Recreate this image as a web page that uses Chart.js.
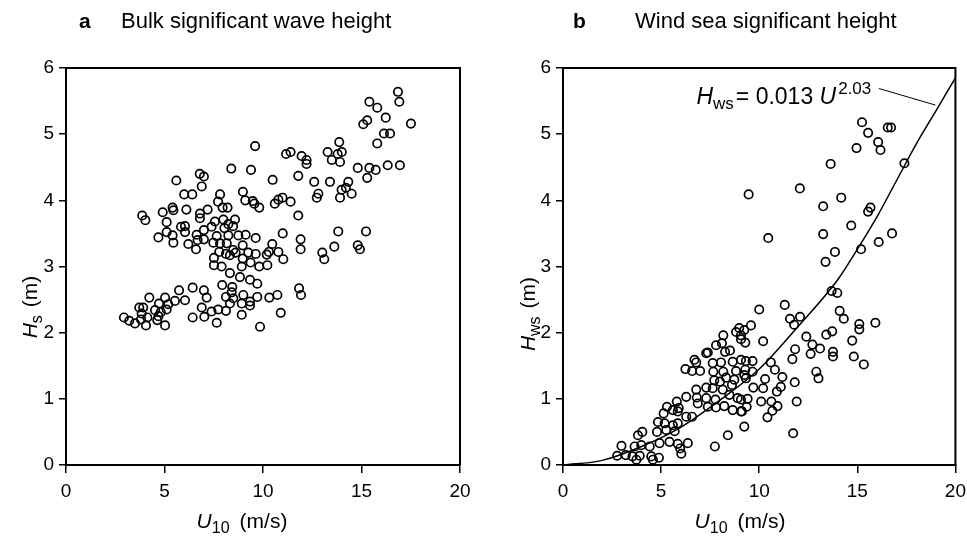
<!DOCTYPE html>
<html><head><meta charset="utf-8">
<script src="https://cdn.jsdelivr.net/npm/chart.js@4.4.0/dist/chart.umd.min.js"></script>
<style>
html,body{margin:0;padding:0;background:#fff;}
#wrap{position:relative;width:967px;height:536px;overflow:hidden;background:#fff;}
canvas{position:absolute;top:0;}
</style></head><body>
<div id="wrap"><canvas id="ca" width="483" height="536" style="left:0"></canvas><canvas id="cb" width="490" height="536" style="left:483px"></canvas></div>
<script>
// ---- Panel a: bulk significant wave height ----
const aU = [9.6,8.39,9.39,10.49,5.6,6.79,7.0,6.89,6.0,6.41,7.82,8.98,9.1,9.48,9.81,9.56,10.6,10.78,7.72,7.95,8.2,5.41,5.45,4.91,6.11,7.19,6.8,6.8,3.87,4.03,5.11,5.84,6.04,7.56,7.99,8.58,8.24,8.48,7.39,8.04,7.0,6.04,5.11,4.69,5.41,5.45,6.63,6.68,7.0,6.21,6.6,7.65,8.24,8.75,9.12,9.63,7.48,7.82,8.16,8.97,8.49,7.78,8.12,8.61,9.25,9.63,10.47,10.3,10.19,10.78,7.51,8.32,8.97,9.37,7.51,7.9,8.92,9.81,10.22,8.32,8.83,9.34,9.71,7.93,8.44,5.74,6.43,7.0,
7.14,6.89,8.41,8.12,9.0,9.71,8.49,8.32,8.92,9.34,9.34,10.32,10.73,7.39,7.73,8.12,8.92,7.02,7.65,6.43,9.85,10.9,4.23,5.03,5.53,6.04,4.72,5.19,3.72,3.92,4.52,5.11,4.81,3.84,4.13,4.69,2.94,3.21,3.5,3.81,4.06,4.63,5.03,
15.4,15.8,16.92,16.85,16.23,15.29,15.09,17.51,16.14,16.45,15.8,13.87,14.0,11.17,11.4,11.96,12.21,12.21,13.28,13.79,13.49,13.91,14.81,15.4,15.72,15.29,16.33,16.95,11.79,12.6,13.4,14.33,12.81,12.73,13.99,14.21,13.91,14.5,10.99,11.4,11.79,11.0,11.91,11.91,11.03,13.82,15.23,13.62,14.81,14.92,13.01,13.11,11.83,11.93];
const aHs = [4.82,4.48,4.46,4.31,4.30,4.40,4.36,4.21,4.09,4.09,4.09,4.13,4.0,3.99,3.89,3.95,3.95,4.01,3.98,3.89,3.89,3.89,3.85,3.82,3.86,3.86,3.80,3.73,3.77,3.70,3.67,3.60,3.61,3.68,3.71,3.71,3.64,3.61,3.60,3.58,3.55,3.52,3.52,3.44,3.47,3.36,3.48,3.40,3.41,3.34,3.26,3.46,3.47,3.47,3.48,3.43,3.36,3.35,3.35,3.32,3.25,3.22,3.19,3.21,3.21,3.19,3.34,3.22,3.18,3.22,3.13,3.17,3.12,3.06,3.02,3.0,3.0,3.0,3.02,2.90,2.84,2.80,2.74,2.72,2.69,2.64,2.68,2.64,
2.53,2.38,2.61,2.54,2.57,2.54,2.52,2.44,2.44,2.47,2.41,2.53,2.57,2.32,2.35,2.33,2.27,2.24,2.15,2.23,2.09,2.30,2.53,2.53,2.48,2.49,2.44,2.43,2.38,2.38,2.34,2.35,2.31,2.29,2.23,2.25,2.23,2.18,2.14,2.20,2.11,2.19,2.11,
5.49,5.40,5.49,5.64,5.25,5.21,5.15,5.16,5.01,5.01,4.86,4.88,4.73,4.70,4.73,4.67,4.61,4.55,4.73,4.70,4.61,4.58,4.49,4.49,4.46,4.34,4.53,4.53,4.37,4.28,4.28,4.28,4.10,4.04,4.16,4.19,4.04,4.10,4.04,3.98,3.77,3.50,3.41,3.26,3.11,3.53,3.53,3.30,3.32,3.26,3.21,3.11,2.67,2.57];

// ---- Panel b: wind sea significant height ----
const bU = [15.24,15.55,14.96,16.06,16.18,16.55,16.72,17.4,13.64,9.46,12.07,
14.18,13.26,15.67,15.55,14.69,10.46,13.26,16.77,16.09,15.19,13.86,13.38,13.69,13.98,
10.0,11.3,11.57,12.08,11.78,14.1,14.31,15.1,15.1,15.92,9.58,9.24,8.98,9.29,9.07,10.2,12.4,12.71,13.1,13.42,13.72,14.74,11.83,11.69,12.62,13.76,13.76,14.82,15.33,12.91,13.02,10.59,10.8,11.18,11.81,11.1,10.9,10.3,10.2,9.7,10.1,10.62,10.93,10.67,10.42,11.91,11.73,9.24,9.66,9.32,9.29,9.66,9.32,9.41,9.36,9.07,
8.82,9.07,8.17,7.8,8.1,8.26,8.51,7.38,6.7,6.79,6.24,6.58,6.99,7.63,8.05,8.65,9.07,7.66,8.17,8.82,8.31,8.73,9.24,7.71,8.0,8.61,6.79,7.3,7.63,8.14,6.28,6.82,7.3,7.77,8.48,8.9,9.07,6.87,7.38,7.8,8.22,8.65,9.12,5.8,5.9,5.3,5.6,5.85,6.28,6.58,5.13,4.84,5.18,5.6,5.85,4.79,5.26,5.69,4.04,3.82,3.65,3.99,4.42,2.98,4.92,5.43,5.97,6.03,5.85,6.36,3.2,3.54,3.91,4.5,4.89,2.76,3.74,4.58,7.3,7.74,8.4];
const bHws = [5.18,5.02,4.79,4.88,4.76,5.10,5.10,4.56,4.55,4.09,4.18,
4.04,3.91,3.89,3.83,3.62,3.43,3.49,3.50,3.37,3.26,3.22,3.07,2.63,2.60,
2.35,2.42,2.21,2.24,2.12,2.33,2.21,2.13,2.05,2.15,2.11,2.04,2.07,1.85,1.90,1.87,1.94,1.82,1.76,1.97,2.02,1.88,1.75,1.60,1.68,1.71,1.64,1.64,1.52,1.41,1.31,1.55,1.44,1.33,1.25,1.18,1.11,1.30,1.16,1.17,0.96,0.96,0.89,0.82,0.72,0.96,0.48,0.58,1.57,1.57,1.44,1.41,1.31,1.0,0.88,0.81,
2.01,1.96,1.96,1.81,1.84,1.71,1.73,1.70,1.59,1.55,1.45,1.42,1.42,1.54,1.55,1.56,1.59,1.41,1.41,1.42,1.32,1.29,1.36,1.28,1.26,1.21,1.14,1.17,1.16,1.14,1.03,1.02,1.01,0.99,1.06,1.01,0.99,0.93,0.88,0.87,0.89,0.83,0.81,0.96,0.86,0.88,0.83,0.81,0.73,0.73,0.78,0.65,0.63,0.60,0.63,0.50,0.53,0.51,0.50,0.45,0.28,0.30,0.28,0.29,0.33,0.35,0.25,0.17,0.32,0.33,0.15,0.13,0.14,0.13,0.11,0.14,0.08,0.08,1.69,0.28,0.45];

// fitted curve
const fitU = [0,2,4,6,8,10,12,14,15,16,17,18,19,20];
const fitH = [0,0.07,0.28,0.57,0.98,1.45,2.1,2.8,3.26,3.75,4.3,4.85,5.35,5.85];

const xTickStep = 5, yTickStep = 1;
const FONT = '"Liberation Sans", Arial, Helvetica, sans-serif';

function pts(xs, ys){ return xs.map((x,i)=>({x:x, y:ys[i]})); }
function fontOf(s){ return (s.italic?'italic ':'') + (s.bold?'bold ':'') + s.size + 'px ' + FONT; }
function drawRich(ctx, segs, x, y, align){
  let w = 0;
  segs.forEach(s=>{ ctx.font = fontOf(s); w += ctx.measureText(s.t).width + (s.gap||0); });
  let cx = align === 'center' ? x - w/2 : x;
  segs.forEach(s=>{ ctx.font = fontOf(s); ctx.fillText(s.t, cx, y + (s.dy||0)); cx += ctx.measureText(s.t).width + (s.gap||0); });
}

const decoPlugin = {
  id: 'deco',
  afterDraw(chart, args, o){
    const ctx = chart.ctx, ca = chart.chartArea;
    ctx.save();
    ctx.strokeStyle = '#000'; ctx.lineWidth = 2;
    ctx.beginPath();
    ctx.moveTo(ca.left, ca.top); ctx.lineTo(ca.right, ca.top); ctx.lineTo(ca.right, ca.bottom);
    ctx.stroke();
    ctx.fillStyle = '#000'; ctx.textBaseline = 'alphabetic'; ctx.textAlign = 'left';
    ctx.font = 'bold 21px ' + FONT; ctx.fillText(o.letter, o.letterX, 28);
    ctx.font = '22px ' + FONT; ctx.fillText(o.title, o.titleX, 28);
    drawRich(ctx, [
      {t:'U', italic:true, size:21},
      {t:'10', size:16, dy:5, gap:10},
      {t:'(m/s)', size:21}
    ], o.xTitleX, 528, 'center');
    ctx.save();
    ctx.translate(o.yTitleX, o.yTitleY);
    ctx.rotate(-Math.PI/2);
    drawRich(ctx, o.ySegs, 0, 0, 'center');
    ctx.restore();
    if (o.fitLabel){
      const xs = chart.scales.x, ys = chart.scales.y;
      drawRich(ctx, [
        {t:'H', italic:true, size:23},
        {t:'ws', size:17, dy:5, gap:2},
        {t:'= 0.013 ', size:23},
        {t:'U', italic:true, size:23, gap:2},
        {t:'2.03', size:17, dy:-10}
      ], xs.getPixelForValue(o.fitLabel.x), ys.getPixelForValue(o.fitLabel.y), 'left');
      ctx.lineWidth = 1;
      ctx.beginPath();
      ctx.moveTo(xs.getPixelForValue(o.fitLabel.l0[0]), ys.getPixelForValue(o.fitLabel.l0[1]));
      ctx.lineTo(xs.getPixelForValue(o.fitLabel.l1[0]), ys.getPixelForValue(o.fitLabel.l1[1]));
      ctx.stroke();
    }
    ctx.restore();
  }
};

function makeChart(id, datasets, yWidth, rightPad, deco){
  return new Chart(document.getElementById(id), {
    type: 'scatter',
    data: { datasets: datasets },
    plugins: [decoPlugin],
    options: {
      responsive: false, animation: false, devicePixelRatio: 1,
      layout: { padding: { top: 68, right: rightPad, left: 0, bottom: 0 } },
      plugins: { legend: { display: false }, tooltip: { enabled: false }, deco: deco },
      scales: {
        x: {
          type: 'linear', min: 0, max: 20,
          ticks: { stepSize: xTickStep, color: '#000', font: { size: 19, family: FONT }, padding: 7, maxRotation: 0 },
          grid: { drawOnChartArea: false, drawTicks: true, tickLength: 8, color: '#000', lineWidth: 1.5 },
          border: { display: true, color: '#000', width: 2 },
          afterFit: s => { s.height = 71; }
        },
        y: {
          type: 'linear', min: 0, max: 6,
          ticks: { stepSize: yTickStep, color: '#000', font: { size: 19, family: FONT }, padding: 5 },
          grid: { drawOnChartArea: false, drawTicks: true, tickLength: 7, color: '#000', lineWidth: 1.5 },
          border: { display: true, color: '#000', width: 2 },
          afterFit: s => { s.width = yWidth; }
        }
      }
    }
  });
}

const pointStyle = { pointRadius: 4.2, pointBorderWidth: 1.7, borderColor: '#000', backgroundColor: 'rgba(255,255,255,0)', pointHoverRadius: 4.2 };

makeChart('ca', [
  Object.assign({ label: 'Hs', data: pts(aU, aHs) }, pointStyle)
], 66, 23, {
  letter: 'a', letterX: 79, title: 'Bulk significant wave height', titleX: 121,
  xTitleX: 242, yTitleX: 37, yTitleY: 307,
  ySegs: [ {t:'H', italic:true, size:21}, {t:'s', size:16, dy:5, gap:8}, {t:'(m)', size:21} ]
});

makeChart('cb', [
  { label: 'fit', data: pts(fitU, fitH), showLine: true, borderColor: '#000', borderWidth: 1.5, pointRadius: 0, cubicInterpolationMode: 'monotone', fill: false },
  Object.assign({ label: 'Hws', data: pts(bU, bHws) }, pointStyle)
], 80, 14, {
  letter: 'b', letterX: 90, title: 'Wind sea significant height', titleX: 152,
  xTitleX: 257, yTitleX: 52, yTitleY: 314,
  ySegs: [ {t:'H', italic:true, size:21}, {t:'ws', size:16, dy:5, gap:8}, {t:'(m)', size:21} ],
  fitLabel: { x: 6.8, y: 5.45, l0: [16.1, 5.69], l1: [18.98, 5.44] }
});
</script>
</body></html>
